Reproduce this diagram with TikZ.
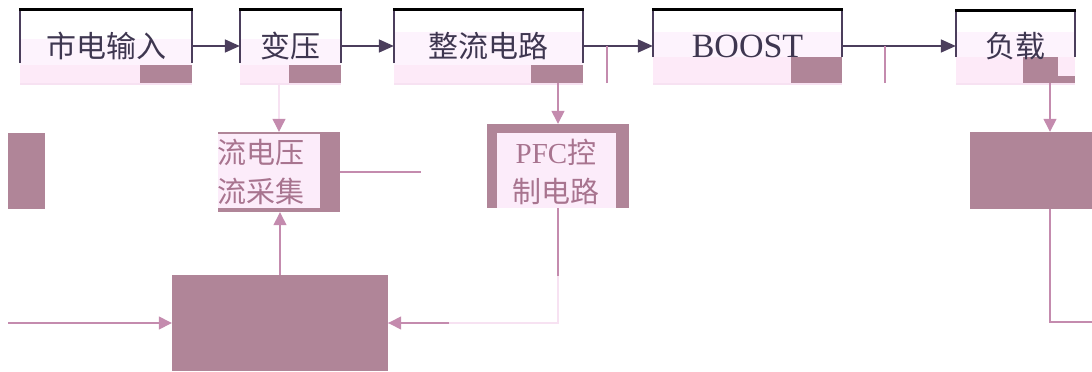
\documentclass[tikz,border=0pt]{standalone}
\usepackage{fontspec}
\setmainfont{Liberation Serif}
\newfontfamily\cjk{Noto Sans CJK SC}
\usetikzlibrary{arrows.meta}
\definecolor{mauve}{HTML}{B08598}
\definecolor{palepink}{HTML}{FDF3FD}
\definecolor{lightpink}{HTML}{FDEAF8}
\definecolor{innerpink}{HTML}{FCECFA}
\definecolor{pinkline}{HTML}{C48BAE}
\definecolor{fadeline}{HTML}{F7E2F2}
\definecolor{darkline}{HTML}{4B3E5C}
\definecolor{toptext}{HTML}{3E3650}
\definecolor{midtext}{HTML}{A8748F}
\tikzset{
  topbox/.style={rectangle, inner sep=0pt, minimum height=73.5, text=toptext, font=\cjk\fontsize{30}{36}\selectfont},
  block/.style={rectangle, inner sep=0pt, fill=mauve},
  midlabel/.style={align=center, inner sep=0pt, text=midtext, font=\cjk\fontsize{29}{39}\selectfont},
  frametop/.style={draw=black, line width=2.2pt},
  frameside/.style={draw=darkline, line width=1.5pt},
  darr/.style={draw=darkline, line width=1.8pt, -{Triangle[length=15pt,width=13pt]}},
  parr/.style={draw=pinkline, line width=1.4pt, -{Triangle[length=13pt,width=13pt]}},
  fadearr/.style={draw=fadeline, line width=1.2pt, -{Triangle[length=13pt,width=13pt,color=pinkline]}},
  pline/.style={draw=pinkline, line width=1.4pt},
  faint/.style={draw=fadeline, line width=1.2pt}
}
\begin{document}
\begin{tikzpicture}[x=1pt,y=-1pt]
\useasboundingbox (0,0) rectangle (1092,372);
% top row
\fill[palepink] (20,39) rectangle (192,65);\fill[lightpink] (20,65) rectangle (192,83);\fill[mauve] (140,65) rectangle (192,83);
\fill[palepink] (240,39) rectangle (341,65);\fill[lightpink] (240,65) rectangle (341,83);\fill[mauve] (289,65) rectangle (341,83);
\fill[palepink] (394,32) rectangle (583,65);\fill[lightpink] (394,65) rectangle (583,83);\fill[mauve] (531,65) rectangle (583,83);
\fill[palepink] (653,32) rectangle (842,57);\fill[lightpink] (653,57) rectangle (842,83);\fill[mauve] (791,57) rectangle (842,83);
\fill[palepink] (956,32) rectangle (1075,57);\fill[lightpink] (956,57) rectangle (1075,83);
\fill[mauve] (1023,57) rectangle (1058,83);\fill[mauve] (1058,76) rectangle (1075,83);
\node[topbox, minimum width=172] (sd) at (106,46) {市电输入};
\node[topbox, minimum width=101] (by) at (290.5,46) {变压};
\node[topbox, minimum width=189] (zl) at (488.5,46) {整流电路};
\node[topbox, minimum width=189, font=\fontsize{34}{40}\selectfont] (boost) at (747.5,46) {BOOST};
\node[topbox, minimum width=119] (fz) at (1015.5,46) {负载};
\draw[frameside] (20,63) -- (20,10) (192,10) -- (192,63);\draw[frametop] (18.9,9.5) -- (193.1,9.5);
\draw[frameside] (240,63) -- (240,10) (341,10) -- (341,63);\draw[frametop] (238.9,9.5) -- (342.1,9.5);
\draw[frameside] (394,63) -- (394,10) (583,10) -- (583,63);\draw[frametop] (392.9,9.5) -- (584.1,9.5);
\draw[frameside] (653,57) -- (653,10) (842,10) -- (842,57);\draw[frametop] (651.9,9.5) -- (843.1,9.5);
\draw[frameside] (956,57) -- (956,11) (1075,11) -- (1075,57);\draw[frametop] (954.9,10.5) -- (1076.1,10.5);
\draw[faint] (20,84) -- (192,84);\draw[faint] (240,84) -- (341,84);\draw[faint] (394,84) -- (583,84);
\draw[faint] (653,84) -- (842,84);\draw[faint] (956,84) -- (1075,84);
\draw[darr] (sd) -- (by);
\draw[darr] (by) -- (zl);
\draw[darr] (zl) -- (boost);
\draw[darr] (boost) -- (fz);
\coordinate (t1) at (607,83);\coordinate (t2) at (885,83);
\draw[pline] (t1) -- (t1 |- zl.east);\draw[pline] (t2) -- (t2 |- fz.west);
% middle row
\node[block, minimum width=37, minimum height=76] (lb) at (26.5,171) {};
\node[block, minimum width=122, minimum height=80] (cj) at (279,172) {};
\fill[innerpink] (218,134) rectangle (320,208);
\node[midlabel] (cjt) at (260.5,172) {流电压\\流采集};
\node[block, minimum width=142, minimum height=84] (pfc) at (558,166) {};
\fill[innerpink] (497,133) rectangle (616,208);
\node[midlabel] (pfct) at (556,172) {{\rmfamily PFC}控\\制电路};
\node[block, minimum width=122, minimum height=77] (rb) at (1031,170.5) {};
% bottom
\node[block, minimum width=216, minimum height=96] (kz) at (280,323) {};
\draw[fadearr] (cj.north |- by.south) -- (cj.north);
\draw[parr] (pfc.north |- zl.south) -- (pfc.north);
\draw[parr] (kz.north) -- (kz.north |- cj.south);
\coordinate (cjend) at (421,172);
\draw[pline] (cj.east) -- (cjend);
\coordinate (kin) at (8,323);
\draw[parr] (kin) -- (kz.west);
\draw[faint] (pfc.south) |- (kz.east);
\draw[pline] (pfc.south) -- ++(0,68);
\coordinate (kbend) at (449,323);
\draw[parr] (kbend) -- (kz.east);
\draw[parr] ([xshift=34.5]fz.south) -- ([xshift=34.5]fz.south |- rb.north);
\coordinate (rout) at (1092,322);
\draw[pline] ([xshift=19]rb.south) |- (rout);
\end{tikzpicture}
\end{document}
